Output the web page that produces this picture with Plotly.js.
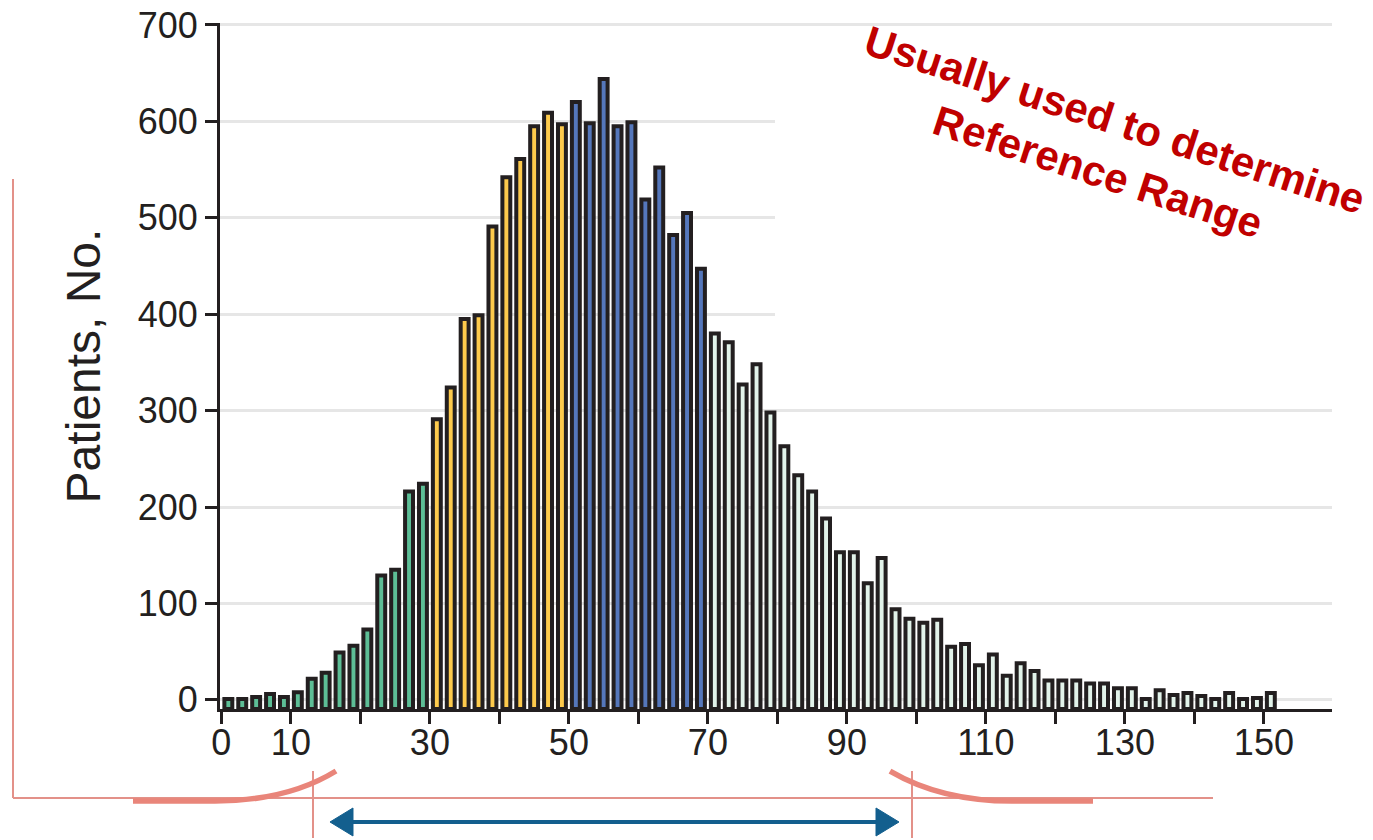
<!DOCTYPE html>
<html>
<head>
<meta charset="utf-8">
<script src="https://cdn.plot.ly/plotly-3.0.1.min.js"></script>
<style>
  html, body { margin: 0; padding: 0; background: #ffffff; }
  #chart { width: 1373px; height: 840px; }
</style>
</head>
<body>
<div id="chart"></div>
<script>
// ---- data ----
const binCenters = [1, 3, 5, 7, 9, 11, 13, 15, 17, 19, 21, 23, 25, 27, 29,
  31, 33, 35, 37, 39, 41, 43, 45, 47, 49,
  51, 53, 55, 57, 59, 61, 63, 65, 67, 69,
  71, 73, 75, 77, 79, 81, 83, 85, 87, 89, 91, 93, 95, 97, 99,
  101, 103, 105, 107, 109, 111, 113, 115, 117, 119, 121, 123, 125, 127, 129,
  131, 133, 135, 137, 139, 141, 143, 145, 147, 149, 151];
const patients = [1, 1, 3, 6, 3, 8, 22, 28, 49, 56, 73, 129, 135, 216, 224,
  291, 324, 395, 399, 491, 542, 561, 595, 609, 597,
  620, 598, 644, 595, 599, 519, 552, 482, 505, 447,
  380, 371, 327, 348, 298, 263, 233, 216, 188, 153, 153, 121, 147, 94, 84,
  80, 83, 55, 58, 36, 47, 25, 38, 30, 20, 20, 20, 17, 17, 12,
  12, 1, 10, 5, 7, 4, 1, 7, 1, 2, 7];
const groupUpperEdges = [30, 50, 70, Infinity];
const groupColors = ['#5dbe96', '#fdca4c', '#5577bb', '#e2f3ea'];
const xTickVals = [0, 10, 20, 30, 40, 50, 60, 70, 80, 90, 100, 110, 120, 130, 140, 150, 160];
const xTickText = ['0', '10', '', '30', '', '50', '', '70', '', '90', '', '110', '', '130', '', '150', ''];
const yTickVals = [0, 100, 200, 300, 400, 500, 600, 700];
const yTitle = 'Patients, No.';
const noteText = 'Usually used to determine<br>Reference Range';

// ---- styling ----
const INK = '#231f20';
const FONT = 'Liberation Sans, Arial, Helvetica, sans-serif';
const BAR_BASE = -9.5;
const L = 220, R = 1332, T = 23, B = 709;   // plot area in page pixels
const px = X => (X - L) / (R - L);
const py = Y => (B - Y) / (B - T);

const barColors = binCenters.map(c => groupColors[groupUpperEdges.findIndex(e => c < e)]);

const trace = {
  type: 'bar',
  x: binCenters,
  y: patients.map(v => v - BAR_BASE),
  base: BAR_BASE,
  customdata: patients,
  hovertemplate: '%{x}: %{customdata}<extra></extra>',
  marker: { color: barColors, line: { color: INK, width: 4 } }
};

const salmon = '#e9857a';
const thin = '#e39189';
const arrowBlue = '#135f8e';
const P = (X, Y) => px(X).toFixed(5) + ',' + py(Y).toFixed(5);

const shapes = [
  // white patch hiding gridlines behind the note
  { type: 'rect', xref: 'paper', yref: 'paper', x0: px(775), x1: 1.01, y0: py(330), y1: py(38),
    fillcolor: '#ffffff', line: { width: 0 }, layer: 'above' },
  // overlay diagram below the chart
  { type: 'line', xref: 'paper', yref: 'paper', x0: px(13), x1: px(13), y0: py(179), y1: py(798),
    line: { color: thin, width: 2 } },
  { type: 'line', xref: 'paper', yref: 'paper', x0: px(13), x1: px(1213), y0: py(798), y1: py(798),
    line: { color: thin, width: 2 } },
  { type: 'line', xref: 'paper', yref: 'paper', x0: px(313), x1: px(313), y0: py(771), y1: py(838),
    line: { color: thin, width: 2 } },
  { type: 'line', xref: 'paper', yref: 'paper', x0: px(912), x1: px(912), y0: py(771), y1: py(838),
    line: { color: thin, width: 2 } },
  { type: 'path', xref: 'paper', yref: 'paper',
    path: 'M' + P(133, 801) + ' L' + P(215, 801) + ' C' + P(262, 801) + ' ' + P(302, 792) + ' ' + P(336, 771),
    line: { color: salmon, width: 5.5 } },
  { type: 'path', xref: 'paper', yref: 'paper',
    path: 'M' + P(890, 771) + ' C' + P(926, 792) + ' ' + P(966, 801) + ' ' + P(1012, 801) + ' L' + P(1093, 801),
    line: { color: salmon, width: 5.5 } },
  { type: 'line', xref: 'paper', yref: 'paper', x0: px(345), x1: px(884), y0: py(822), y1: py(822),
    line: { color: arrowBlue, width: 4 } },
  { type: 'path', xref: 'paper', yref: 'paper',
    path: 'M' + P(330, 822) + ' L' + P(353, 808) + ' L' + P(353, 836) + ' Z',
    fillcolor: arrowBlue, line: { color: arrowBlue, width: 1 } },
  { type: 'path', xref: 'paper', yref: 'paper',
    path: 'M' + P(899, 822) + ' L' + P(876, 808) + ' L' + P(876, 836) + ' Z',
    fillcolor: arrowBlue, line: { color: arrowBlue, width: 1 } }
];

const layout = {
  width: 1373, height: 840,
  margin: { l: L, r: 1373 - R, t: T, b: 840 - B, pad: 0 },
  paper_bgcolor: '#ffffff', plot_bgcolor: '#ffffff',
  showlegend: false,
  bargap: 0.43,
  font: { family: FONT, color: INK },
  xaxis: {
    range: [-0.2, 159.8],
    tickmode: 'array', tickvals: xTickVals, ticktext: xTickText,
    ticks: 'outside', ticklen: 12, tickwidth: 3, tickcolor: INK,
    ticklabelstandoff: -12,
    showline: true, linewidth: 3, linecolor: INK,
    showgrid: false, zeroline: false,
    tickfont: { family: FONT, size: 36, color: INK }
  },
  yaxis: {
    range: [-9.5, 702],
    tickmode: 'array', tickvals: yTickVals,
    ticks: 'outside', ticklen: 12, tickwidth: 3, tickcolor: INK,
    showline: true, linewidth: 3, linecolor: INK,
    showgrid: true, gridcolor: '#e6e6e6', gridwidth: 3,
    zeroline: false,
    tickfont: { family: FONT, size: 36, color: INK },
    title: { text: yTitle, font: { family: FONT, size: 48, color: INK }, standoff: 22 }
  },
  shapes: shapes,
  annotations: [{
    xref: 'paper', yref: 'paper', x: px(1106), y: py(146),
    xanchor: 'center', yanchor: 'middle',
    text: noteText, showarrow: false, textangle: 18, align: 'center',
    font: { family: FONT, size: 42, color: '#c00000', weight: 700 }
  }]
};

Plotly.newPlot('chart', [trace], layout, { displayModeBar: false, staticPlot: true });
</script>
</body>
</html>
